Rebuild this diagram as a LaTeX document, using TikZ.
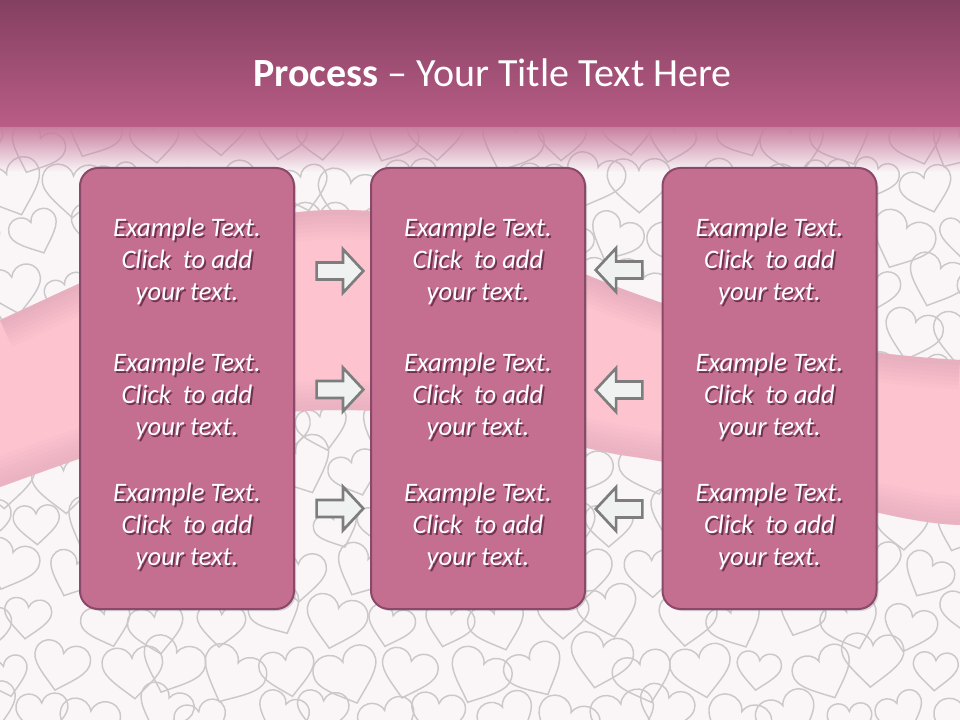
\documentclass[tikz,border=0pt]{standalone}
\usepackage{fontspec}
\setmainfont{Carlito}
\usetikzlibrary{shapes.arrows,shadows,fadings}
\definecolor{barTop}{RGB}{132,64,96}
\definecolor{barBot}{RGB}{186,93,135}
\definecolor{fadePink}{RGB}{200,128,160}
\definecolor{bg}{RGB}{250,246,247}
\definecolor{heartCol}{RGB}{203,200,202}
\definecolor{bandCol}{RGB}{253,195,207}
\definecolor{bandEdge}{RGB}{185,135,155}
\definecolor{boxFill}{RGB}{196,110,144}
\definecolor{boxLine}{RGB}{140,72,105}
\definecolor{arrFill}{RGB}{240,241,241}
\definecolor{arrLine}{RGB}{125,125,125}
\definecolor{txtShadow}{RGB}{110,50,80}
\newcommand\shtxt[1]{\makebox[0pt][l]{\hspace{1.4pt}\raisebox{-1.4pt}{\color{txtShadow}\begin{tabular}{@{}c@{}}#1\end{tabular}}}\begin{tabular}{@{}c@{}}#1\end{tabular}}
\tikzset{
  heartline/.style={draw=heartCol, line width=1.1pt},
  procbox/.style={draw=boxLine, fill=boxFill, line width=1.5pt, rounded corners=13.5pt,
    minimum width=160.5pt, minimum height=330.75pt, inner sep=0pt,
    drop shadow={shadow xshift=1.5pt, shadow yshift=-1.5pt, opacity=.3}},
  lbl/.style={text=white, inner sep=0pt, font=\fontsize{20}{24}\selectfont\itshape},
  blockarrow/.style={single arrow, draw=arrLine, fill=arrFill, line width=2pt,
    minimum height=35pt, inner xsep=0pt, inner ysep=5.4pt, single arrow head extend=10pt,
    single arrow tip angle=94},
  rarrow/.style={blockarrow},
  larrow/.style={blockarrow, shape border rotate=180},
  titletext/.style={text=white, inner sep=0pt, font=\fontsize{30}{36}\selectfont}
}
\begin{document}
\begin{tikzpicture}[x=0.75pt,y=-0.75pt]
\useasboundingbox (0,0) rectangle (960,720);
\clip (0,0) rectangle (960,720);
% background with hearts
\fill[bg] (0,0) rectangle (960,720);
\pgfmathsetseed{7}
\foreach \i in {0,...,17}{
  \foreach \j in {0,...,12}{
    \pgfmathsetmacro\hx{\i*58 + mod(\j,2)*29 + rand*12 - 20}
    \pgfmathsetmacro\hy{140 + \j*48 + rand*10}
    \pgfmathsetmacro\hr{rand*28}
    \pgfmathsetmacro\hs{27 + rand*5}
    \draw[heartline, shift={(\hx,\hy)}, rotate=\hr, scale=\hs]
      (0,0.9) .. controls (-0.5,0.45) and (-1.1,0.05) .. (-1,-0.4)
      .. controls (-0.9,-0.95) and (-0.15,-0.95) .. (0,-0.45)
      .. controls (0.15,-0.95) and (0.9,-0.95) .. (1,-0.4)
      .. controls (1.1,0.05) and (0.5,0.45) .. (0,0.9) -- cycle;
  }
}
% pink band
\begin{scope}
\clip (0,320) .. controls (110,270) and (220,212) .. (330,210)
  .. controls (450,208) and (520,250) .. (620,288)
  .. controls (720,325) and (820,352) .. (960,360)
  -- (960,525) .. controls (880,523) and (750,472) .. (620,455)
  .. controls (520,435) and (440,410) .. (340,410)
  .. controls (200,410) and (90,455) .. (0,487) -- cycle;
\fill[bandCol] (0,0) rectangle (960,720);
\foreach \w in {44,38,32,26,20,14,8}{
  \draw[bandEdge, line width=\w pt, opacity=0.045]
    (0,320) .. controls (110,270) and (220,212) .. (330,210)
    .. controls (450,208) and (520,250) .. (620,288)
    .. controls (720,325) and (820,352) .. (960,360);
  \draw[bandEdge, line width=\w pt, opacity=0.035]
    (960,525) .. controls (880,523) and (750,472) .. (620,455)
    .. controls (520,435) and (440,410) .. (340,410)
    .. controls (200,410) and (90,455) .. (0,487);
}
\end{scope}
% title bar
\shade[top color=barTop, bottom color=barBot] (0,0) rectangle (960,128);
\fill[fadePink, path fading=south] (0,127) rectangle (960,172);
\node[titletext, anchor=base] (title) at (492.5,87) {\textbf{Process} – Your Title Text Here};
% boxes
\node[procbox] (b1) at (187,388.5) {};
\node[procbox] (b2) at (478,388.5) {};
\node[procbox] (b3) at (769.5,388.5) {};
% texts
\foreach \c/\cx in {1/187,2/478,3/769.5}{
  \foreach \r/\cy in {1/263.5,2/398.5,3/528.5}{
    \node[lbl] (t\c\r) at (\cx,\cy) {\shtxt{Example Text.\\Click\ \ to add\\your text.}};
  }
}
% arrows
\node[rarrow] (ra1) at (336,271) {};
\node[rarrow] (ra2) at (336,389.5) {};
\node[rarrow] (ra3) at (336,508.5) {};
\node[larrow] (la1) at (623,270) {};
\node[larrow] (la2) at (623,390) {};
\node[larrow] (la3) at (623,509) {};
\end{tikzpicture}
\end{document}
